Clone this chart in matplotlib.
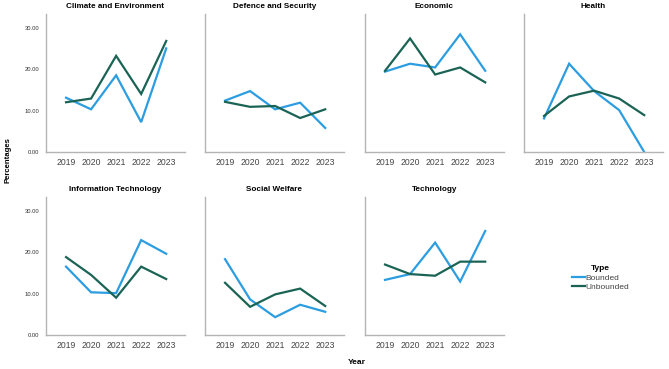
import matplotlib
matplotlib.use("Agg")
import matplotlib.pyplot as plt
from matplotlib.lines import Line2D

plt.rcParams['font.family'] = ['Liberation Sans', 'DejaVu Sans']

years = ["2019", "2020", "2021", "2022", "2023"]
topics = ["Climate and Environment", "Defence and Security", "Economic", "Health",
          "Information Technology", "Social Welfare", "Technology"]

bounded = {
    "Climate and Environment": [13.1, 10.3, 18.5, 7.2, 25.0],
    "Defence and Security": [12.4, 14.7, 10.3, 11.9, 5.8],
    "Economic": [19.4, 21.3, 20.4, 28.4, 19.6],
    "Health": [8.1, 21.3, 14.7, 10.1, 0.0],
    "Information Technology": [16.5, 10.3, 10.1, 22.9, 19.6],
    "Social Welfare": [18.3, 8.6, 4.3, 7.3, 5.6],
    "Technology": [13.3, 14.7, 22.3, 12.9, 25.1],
}
unbounded = {
    "Climate and Environment": [12.0, 12.9, 23.2, 14.0, 26.8],
    "Defence and Security": [12.1, 10.9, 11.1, 8.2, 10.3],
    "Economic": [19.6, 27.4, 18.7, 20.4, 16.8],
    "Health": [8.7, 13.4, 14.8, 12.9, 8.9],
    "Information Technology": [18.8, 14.5, 9.0, 16.5, 13.5],
    "Social Welfare": [12.6, 6.8, 9.8, 11.2, 7.0],
    "Technology": [17.0, 14.7, 14.3, 17.7, 17.7],
}
yticks = [0, 10, 20, 30]

blue = "#2b9de0"
green = "#1b6455"
spine_col = "#b4b4b4"

fig = plt.figure(figsize=(6.69, 3.69), dpi=100)
W, H = 669, 369
lefts = [46, 205, 365, 524]
tops = [14, 197]
aw, ah = 139, 138

x = list(range(len(years)))
for i, t in enumerate(topics):
    r, c = divmod(i, 4)
    ax = fig.add_axes([lefts[c] / W, (H - tops[r] - ah) / H, aw / W, ah / H])
    ax.plot(x, bounded[t], color=blue, lw=1.6, solid_joinstyle='miter')
    ax.plot(x, unbounded[t], color=green, lw=1.6, solid_joinstyle='miter')
    ax.set_xlim(-0.8, 4.75)
    ax.set_ylim(0, 33.3)
    ax.set_xticks(x)
    ax.set_xticklabels(years, fontsize=6.2, color="#444444")
    ax.set_yticks(yticks)
    if c == 0:
        ax.set_yticklabels([f"{v:.2f}" for v in yticks], fontsize=4.2, color="#333333")
    else:
        ax.set_yticklabels([])
    ax.tick_params(length=0, pad=4)
    ax.tick_params(axis='y', pad=5)
    for s in ['top', 'right']:
        ax.spines[s].set_visible(False)
    for s in ['left', 'bottom']:
        ax.spines[s].set_color(spine_col)
        ax.spines[s].set_linewidth(1.0)
    ax.set_title(t, fontsize=5.9, fontweight='bold', pad=4)

fig.text(8 / W, 1 - 160 / H, "Percentages", rotation=90, fontsize=5.6,
         fontweight='bold', ha='center', va='center')
fig.text(357 / W, 1 - 363 / H, "Year", fontsize=6, fontweight='bold',
         ha='center', va='center')

handles = [Line2D([0], [0], color=blue, lw=1.6), Line2D([0], [0], color=green, lw=1.6)]
leg = fig.legend(handles, ["Bounded", "Unbounded"], title="Type",
                 loc='upper left', bbox_to_anchor=(568 / W, 1 - 261 / H),
                 frameon=False, fontsize=6, title_fontsize=6,
                 handlelength=1.5, handletextpad=0.1, labelspacing=0.2,
                 borderpad=0)
leg.get_title().set_fontweight('bold')
for txt in leg.get_texts():
    txt.set_color("#444444")

fig.savefig("out.png", dpi=100)
